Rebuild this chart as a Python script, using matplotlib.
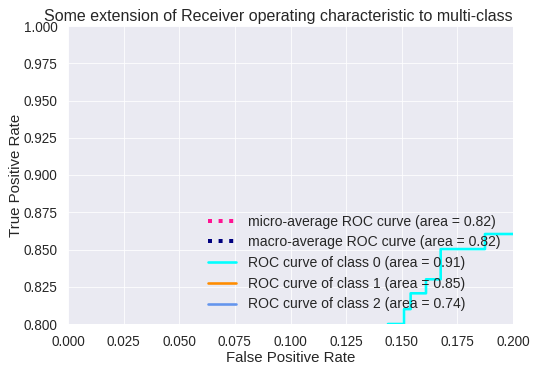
import matplotlib
matplotlib.use("Agg")
import matplotlib.pyplot as plt
import seaborn as sns

sns.set_style("darkgrid")
plt.rcParams['font.family'] = ['Liberation Sans', 'DejaVu Sans']

# Class 0 ROC curve (visible portion in zoomed window)
fpr0 = [0.000, 0.1438, 0.1438, 0.1510, 0.1510, 0.1540, 0.1540, 0.1609, 0.1609, 0.1675, 0.1675, 0.1874, 0.1874, 0.2500]
tpr0 = [0.500, 0.7800, 0.8000, 0.8000, 0.8100, 0.8100, 0.8206, 0.8206, 0.8300, 0.8300, 0.8503, 0.8503, 0.8604, 0.8604]

# Other curves lie outside the visible window
fpr_micro = [0.0, 0.2]
tpr_micro = [0.0, 0.5]
fpr_macro = [0.0, 0.2]
tpr_macro = [0.0, 0.5]
fpr1 = [0.0, 0.2]
tpr1 = [0.0, 0.5]
fpr2 = [0.0, 0.2]
tpr2 = [0.0, 0.5]

labels = [
    'micro-average ROC curve (area = 0.82)',
    'macro-average ROC curve (area = 0.82)',
    'ROC curve of class 0 (area = 0.91)',
    'ROC curve of class 1 (area = 0.85)',
    'ROC curve of class 2 (area = 0.74)',
]

fig = plt.figure(figsize=(543/72, 370/72), dpi=72)
ax = fig.add_axes([68/543, 1-324/370, (513-68)/543, (324-26)/370])

ax.plot(fpr_micro, tpr_micro, color='deeppink', linestyle=':', linewidth=4, label=labels[0])
ax.plot(fpr_macro, tpr_macro, color='navy', linestyle=':', linewidth=4, label=labels[1])
ax.plot(fpr0, tpr0, color='aqua', lw=2.6, label=labels[2])
ax.plot(fpr1, tpr1, color='darkorange', lw=2.6, label=labels[3])
ax.plot(fpr2, tpr2, color='cornflowerblue', lw=2.6, label=labels[4])

ax.set_xlim(0.0, 0.2)
ax.set_ylim(0.8, 1.0)
ax.set_xticks([0.0, 0.025, 0.05, 0.075, 0.1, 0.125, 0.15, 0.175, 0.2])
ax.set_xticklabels(['0.000', '0.025', '0.050', '0.075', '0.100', '0.125', '0.150', '0.175', '0.200'])
ax.set_yticks([0.8, 0.825, 0.85, 0.875, 0.9, 0.925, 0.95, 0.975, 1.0])
ax.set_yticklabels(['0.800', '0.825', '0.850', '0.875', '0.900', '0.925', '0.950', '0.975', '1.000'])
ax.tick_params(labelsize=13.5, pad=7)
ax.set_xlabel('False Positive Rate', fontsize=15, labelpad=2)
ax.set_ylabel('True Positive Rate', fontsize=15, labelpad=1)
ax.set_title('Some extension of Receiver operating characteristic to multi-class',
             fontsize=16, pad=5, x=0.472)
ax.legend(loc='lower right', fontsize=14, frameon=False, handlelength=2.0,
          handletextpad=0.85, labelspacing=0.48, borderaxespad=0.5)

fig.savefig('out.png', dpi=72)
